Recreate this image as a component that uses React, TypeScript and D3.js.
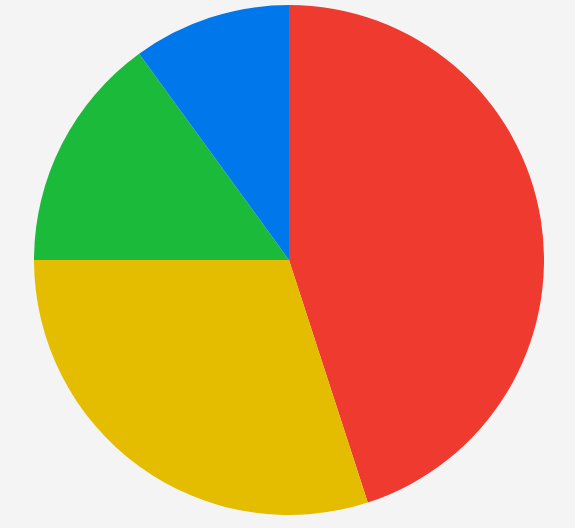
import React, { useEffect, useRef } from 'react';
import * as d3 from 'd3';

const labels = ['Red', 'Yellow', 'Green', 'Blue'];
const values = [45, 30, 15, 10];
const colours = ['#ee3a2f', '#e4bc00', '#1cba3a', '#0077ea'];

const width = 575;
const height = 528;

const App: React.FC = () => {
  const svgRef = useRef<SVGSVGElement>(null);

  useEffect(() => {
    const svg = d3.select(svgRef.current);
    svg.selectAll('*').remove();

    const cx = 289;
    const cy = 260;
    const radius = 255;

    const data = labels.map((label, i) => ({ label, value: values[i], colour: colours[i] }));

    const pie = d3.pie<typeof data[number]>()
      .value(d => d.value)
      .sort(null);

    const arc = d3.arc<d3.PieArcDatum<typeof data[number]>>()
      .innerRadius(0)
      .outerRadius(radius);

    const g = svg.append('g')
      .attr('transform', `translate(${cx},${cy})`);

    g.selectAll('path')
      .data(pie(data))
      .enter().append('path')
      .attr('d', arc)
      .attr('fill', d => d.data.colour);
  }, []);

  return (
    <div style={{ position: 'fixed', left: 0, top: 0, width, height, background: '#f4f4f4' }}>
      <svg ref={svgRef} width={width} height={height} style={{ display: 'block' }}></svg>
    </div>
  );
};

export default App;
